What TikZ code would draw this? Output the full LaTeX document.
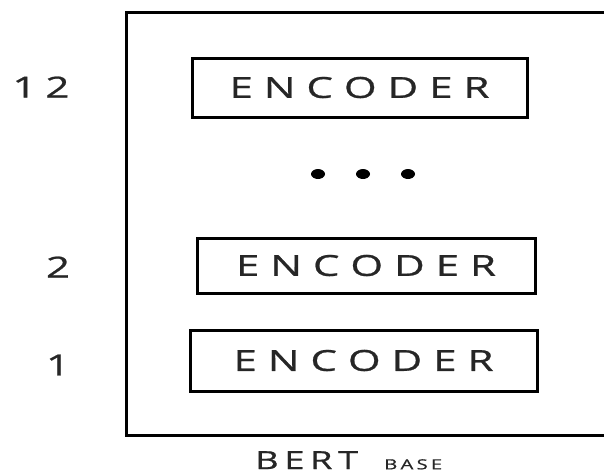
\documentclass[tikz,border=0pt]{standalone}
\usepackage{fontspec}
\setmainfont{Open Sans}
\newfontfamily\widefont[FakeStretch=1.45,FakeBold=0.8]{Open Sans}
\newcommand{\spaced}[2]{\hbox to #1{#2}}
\tikzset{
  frame/.style={draw=black, line width=3pt},
  encbox/.style={draw=black, line width=3pt, inner sep=0pt, fill=white,
    font=\widefont\fontsize{29}{29}\selectfont, text=black!85},
  numlab/.style={inner sep=0pt, font=\widefont\fontsize{29}{29}\selectfont, text=black!85},
  dotstyle/.style={fill=black, draw=none},
}
\begin{document}
\begin{tikzpicture}[x=1pt,y=-1pt]
\useasboundingbox (0,0) rectangle (604,475);
\begin{scope}
\clip (0,0) rectangle (604,475);
\draw[frame] (126,12) rectangle (640,435);
\node[encbox, minimum width=335pt, minimum height=59pt] (e12) at (359.5,87.5)
  {\spaced{260pt}{E\hfill N\hfill C\hfill O\hfill D\hfill E\hfill R}};
\node[encbox, minimum width=338pt, minimum height=55pt] (e2) at (366,265.5)
  {\spaced{260pt}{E\hfill N\hfill C\hfill O\hfill D\hfill E\hfill R}};
\node[encbox, minimum width=347pt, minimum height=61pt] (e1) at (363.5,360.5)
  {\spaced{260pt}{E\hfill N\hfill C\hfill O\hfill D\hfill E\hfill R}};
\fill[dotstyle] (318,174) ellipse [x radius=7, y radius=5];
\fill[dotstyle] (363,174) ellipse [x radius=7, y radius=5];
\fill[dotstyle] (408,174) ellipse [x radius=7, y radius=5];
\node[numlab] (n12) at (41,87) {\spaced{57pt}{1\hfill 2}};
\node[numlab] (n2) at (58,267) {2};
\node[numlab] (n1) at (58,365) {1};
\node[anchor=north west, inner sep=0pt, font=\widefont\fontsize{25}{25}\selectfont, text=black!85] (bert) at (255,451)
  {\spaced{103pt}{B\hfill E\hfill R\hfill T}};
\node[anchor=north west, inner sep=0pt, font=\widefont\fontsize{14}{14}\selectfont, text=black!85] (base) at (384,459)
  {\spaced{58pt}{B\hfill A\hfill S\hfill E}};
\end{scope}
\end{tikzpicture}
\end{document}
